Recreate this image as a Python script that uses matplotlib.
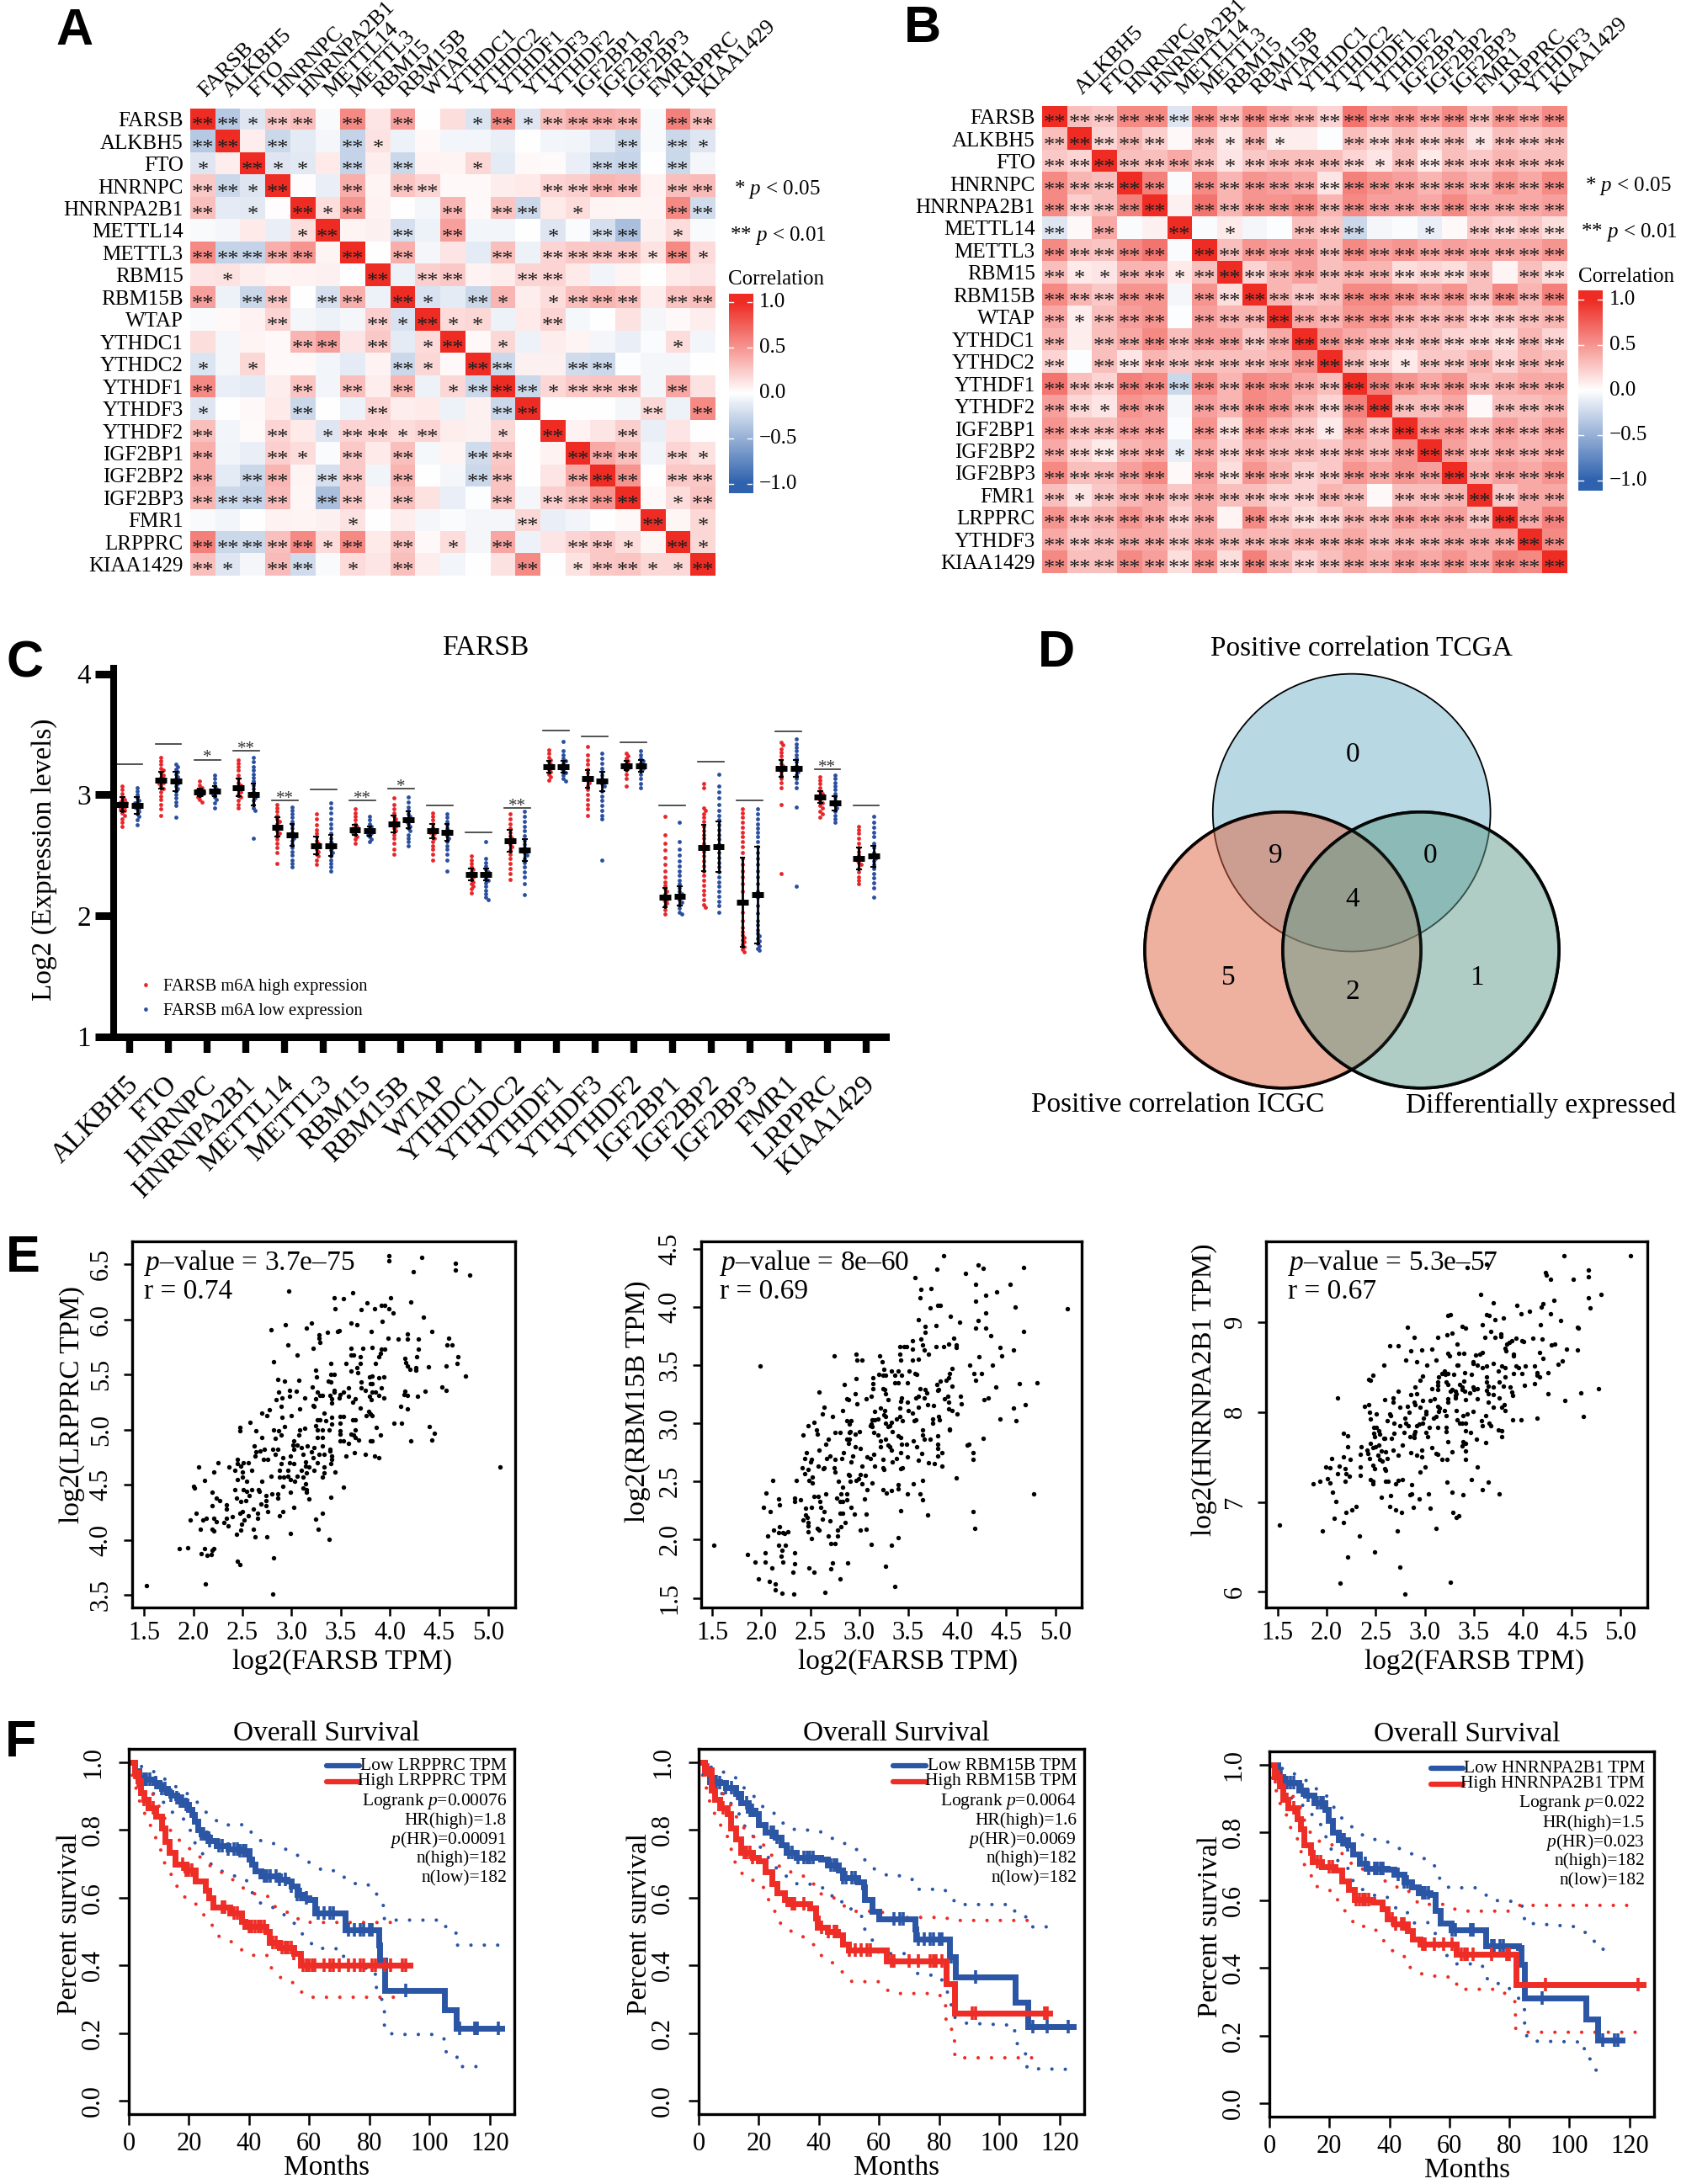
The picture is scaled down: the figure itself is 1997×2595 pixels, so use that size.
import matplotlib
matplotlib.use('Agg')
import matplotlib.pyplot as plt
import numpy as np
from matplotlib.colors import LinearSegmentedColormap
from matplotlib.lines import Line2D
from matplotlib.patches import Circle
from matplotlib.transforms import ScaledTranslation

W, H = 1997, 2595
plt.rcParams['font.family'] = ['Liberation Serif', 'DejaVu Serif']
plt.rcParams['mathtext.fontset'] = 'custom'
plt.rcParams['mathtext.rm'] = 'Liberation Serif'
plt.rcParams['mathtext.it'] = 'Liberation Serif:italic'
plt.rcParams['mathtext.bf'] = 'Liberation Serif:bold'

RED = '#ee2d26'
BLUE = '#2b55a5'

# panel A / B
genes_a = ['FARSB', 'ALKBH5', 'FTO', 'HNRNPC', 'HNRNPA2B1', 'METTL14', 'METTL3', 'RBM15', 'RBM15B', 'WTAP', 'YTHDC1',
           'YTHDC2', 'YTHDF1', 'YTHDF3', 'YTHDF2', 'IGF2BP1', 'IGF2BP2', 'IGF2BP3', 'FMR1', 'LRPPRC', 'KIAA1429']
genes_b = ['FARSB', 'ALKBH5', 'FTO', 'HNRNPC', 'HNRNPA2B1', 'METTL14', 'METTL3', 'RBM15', 'RBM15B', 'WTAP', 'YTHDC1',
           'YTHDC2', 'YTHDF1', 'YTHDF2', 'IGF2BP1', 'IGF2BP2', 'IGF2BP3', 'FMR1', 'LRPPRC', 'YTHDF3', 'KIAA1429']
top_labels_b = [''] + genes_b[1:]

corr_a = [
    [1, -.35, -.15, .25, .3, -.03, .55, .12, .45, 0, .15, -.17, .55, -.15, .3, .38, .38, .35, -.03, .6, .3],
    [-.35, 1, .08, -.25, -.12, -.05, -.28, .14, -.08, .03, -.06, -.06, -.1, 0, -.06, -.07, -.12, -.25, -.03, -.25, -.15],
    [-.15, .08, 1, -.15, -.14, .1, -.28, .08, -.25, .06, .05, .18, -.12, .03, .02, -.1, -.25, -.27, 0, -.25, -.05],
    [.25, -.25, -.15, 1, .01, -.1, .38, .05, .28, .2, .03, .03, .08, .1, .2, .22, .35, .32, .06, .3, .32],
    [.3, -.12, -.14, .01, 1, .15, .5, .06, 0, -.05, .35, .03, .28, -.25, .1, .16, .05, .04, .05, .55, -.22],
    [-.03, -.05, .1, -.1, .15, 1, .05, .07, -.2, -.08, .45, -.06, -.06, 0, -.15, -.02, -.2, -.4, .07, .16, -.03],
    [.55, -.28, -.28, .38, .5, .05, 1, 0, .38, -.05, .12, -.12, .3, -.08, .2, .25, .25, .25, .14, .55, .17],
    [.12, .14, .08, .05, .06, .07, 0, 1, -.08, .22, .25, .06, .08, .2, .2, .1, -.07, .05, 0, .1, .12],
    [.45, -.08, -.25, .28, 0, -.2, .38, -.08, 1, -.18, -.12, -.25, .35, .08, .16, .3, .35, .3, .08, .28, .3],
    [-.03, .03, .06, .2, -.05, -.08, -.05, .22, -.18, 1, .17, .18, -.08, .1, .2, -.04, 0, .14, -.05, .03, .08],
    [.15, -.05, .05, .03, .35, .45, .12, .25, -.12, .17, 1, .03, .18, -.08, .08, .05, -.05, -.1, -.02, .16, -.06],
    [-.17, -.05, .18, .03, .03, -.06, -.12, .06, -.25, .18, .03, 1, -.25, .07, .07, -.22, -.25, -.01, -.05, -.05, 0],
    [.55, -.1, -.12, .08, .28, -.06, .3, .08, .35, -.08, .18, -.25, 1, -.25, .18, .25, .28, .28, -.05, .42, .14],
    [-.15, 0, .03, .1, -.25, 0, -.08, .2, .08, .1, -.08, .07, -.25, 1, 0, 0, 0, -.05, .18, -.08, .55],
    [.3, -.06, .02, .2, .1, -.15, .2, .2, .16, .2, .08, .07, .18, 0, 1, .06, .12, .22, -.1, .12, 0],
    [.38, -.07, -.1, .22, .16, -.02, .25, .1, .3, -.04, .05, -.22, .25, 0, .06, 1, .4, .3, -.07, .2, .14],
    [.38, -.12, -.25, .35, .05, -.2, .25, -.07, .35, 0, -.05, -.25, .28, 0, .12, .4, 1, .5, 0, .25, .25],
    [.35, -.25, -.27, .32, .04, -.4, .25, .05, .3, .14, -.1, -.01, .28, -.05, .22, .3, .5, 1, .03, .16, .28],
    [-.03, -.06, 0, .06, .05, .07, .14, 0, .08, -.05, -.02, -.05, -.05, .18, -.1, -.07, 0, .03, 1, .04, .18],
    [.6, -.25, -.25, .3, .55, .16, .55, .1, .28, .03, .16, -.05, .42, -.08, .12, .2, .25, .16, .04, 1, .18],
    [.3, -.15, -.05, .32, -.22, -.03, .17, .12, .3, .08, -.06, 0, .14, .55, 0, .14, .25, .28, .18, .18, 1],
]
stars_a = ['221220202001212222022', '220200210000000002021', '102110202001000022020', '221200202200002222022',
           '201021200020220100022', '000012002020001022010', '222220202000202222121', '010000020220022000000',
           '202202202102101222022', '000200021211002000000', '000022020120100000010', '101000002102200220000',
           '200020202012221222020', '100020020000220000202', '200201221200102002000', '200210202002200222021',
           '202202202002200222022', '222202202000202222012', '000000100000020000201', '222221202010200221021',
           '210220102000020122112']

corr_b = [
    [1, .3, .25, .55, .55, -.15, .55, .3, .55, .4, .35, .2, .65, .45, .5, .4, .55, .3, .5, .4, .55],
    [.3, 1, .2, .35, .22, .03, .3, .1, .35, .08, .08, -.01, .3, .18, .3, .2, .3, .12, .3, .25, .3],
    [.25, .2, 1, .3, .3, .4, .28, .12, .25, .3, .3, .3, .2, .12, .3, .1, .3, .25, .35, .3, .3],
    [.55, .35, .3, 1, .6, -.02, .55, .35, .5, .45, .4, .12, .6, .5, .45, .35, .45, .35, .5, .4, .55],
    [.55, .22, .3, .6, 1, .07, .65, .35, .5, .5, .55, .35, .55, .45, .45, .4, .55, .4, .4, .4, .45],
    [-.15, .03, .4, -.02, .07, 1, -.02, .1, -.05, -.01, .3, .25, -.25, -.05, -.02, -.1, .03, .25, .2, .25, .15],
    [.55, .3, .28, .55, .65, -.02, 1, .3, .5, .45, .45, .3, .55, .45, .5, .4, .45, .4, .4, .4, .5],
    [.3, .1, .12, .35, .35, .1, .3, 1, .2, .35, .45, .3, .35, .35, .15, .2, .15, .3, .05, .3, .15],
    [.55, .35, .25, .5, .5, -.05, .5, .15, 1, .35, .25, .3, .55, .55, .5, .4, .5, .3, .55, .35, .6],
    [.4, .08, .3, .45, .5, -.01, .45, .35, .35, 1, .4, .35, .5, .5, .35, .3, .35, .2, .25, .3, .35],
    [.35, .08, .3, .4, .55, .3, .45, .45, .25, .4, 1, .5, .4, .35, .25, .3, .2, .2, .15, .35, .2],
    [.2, -.01, .3, .12, .35, .25, .3, .3, .3, .35, .5, 1, .3, .2, .1, .25, .25, .35, .2, .35, .3],
    [.65, .3, .2, .6, .55, -.25, .55, .35, .55, .5, .4, .3, 1, .6, .5, .4, .5, .3, .35, .4, .4],
    [.45, .18, .12, .5, .45, -.05, .45, .35, .55, .5, .35, .2, .6, 1, .3, .3, .4, .03, .3, .3, .35],
    [.5, .3, .3, .45, .45, -.02, .5, .15, .5, .35, .25, .1, .5, .3, 1, .5, .5, .3, .45, .35, .45],
    [.4, .2, .1, .35, .4, -.1, .4, .2, .4, .3, .3, .25, .4, .3, .5, 1, .45, .3, .4, .35, .4],
    [.55, .3, .3, .45, .55, .03, .45, .15, .5, .35, .2, .25, .5, .4, .5, .45, 1, .35, .45, .4, .5],
    [.3, .12, .25, .35, .4, .25, .4, .3, .3, .2, .2, .35, .3, .03, .3, .3, .35, 1, .25, .4, .4],
    [.5, .3, .35, .5, .4, .2, .4, .05, .55, .25, .15, .2, .35, .3, .45, .4, .45, .25, 1, .4, .6],
    [.4, .25, .3, .4, .4, .25, .4, .3, .35, .3, .35, .35, .4, .3, .35, .35, .4, .4, .4, 1, .55],
    [.55, .3, .3, .55, .45, .15, .5, .15, .6, .35, .2, .3, .4, .35, .45, .4, .5, .4, .6, .55, 1],
]
stars_b = ['222222222222222222222', '222220212100222221222', '222222212222212222222', '222220222222222222222',
           '222220222222222222222', '202002010022200102222',
           '222220222222222222222', '211221222222222222022', '222220222222222222222', '212220222222222222222',
           '202222222222222222222', '202222222222221222222', '222222222222222222222', '221220222222222220222',
           '222220222221222222222', '222221222222222222222', '222220222222222222222', '212222222222202222222',
           '222222202222222222222', '222222222222222222222', '222222222222222222222']

# panel C
c_genes = ['ALKBH5', 'FTO', 'HNRNPC', 'HNRNPA2B1', 'METTL14', 'METTL3', 'RBM15', 'RBM15B', 'WTAP', 'YTHDC1', 'YTHDC2',
           'YTHDF1', 'YTHDF3', 'YTHDF2', 'IGF2BP1', 'IGF2BP2', 'IGF2BP3', 'FMR1', 'LRPPRC', 'KIAA1429']
c_high = [
    [3.07, 3.04, 3.01, 2.98, 2.96, 2.95, 2.94, 2.93, 2.93, 2.92, 2.91, 2.9, 2.89, 2.88, 2.87, 2.85, 2.83, 2.8, 2.77, 2.74],
    [3.31, 3.28, 3.25, 3.22, 3.2, 3.18, 3.16, 3.14, 3.13, 3.12, 3.11, 3.1, 3.09, 3.07, 3.05, 3.02, 2.99, 2.96, 2.92, 2.88, 2.83],
    [3.11, 3.08, 3.06, 3.05, 3.04, 3.03, 3.02, 3.02, 3.01, 3.0, 2.99, 2.98, 2.96, 2.94],
    [3.29, 3.26, 3.23, 3.2, 3.16, 3.13, 3.1, 3.08, 3.07, 3.06, 3.05, 3.04, 3.02, 3.0, 2.98, 2.95, 2.92, 2.89],
    [2.92, 2.89, 2.86, 2.83, 2.8, 2.78, 2.76, 2.74, 2.73, 2.72, 2.7, 2.68, 2.66, 2.63, 2.6, 2.56, 2.52, 2.43],
    [2.84, 2.8, 2.75, 2.71, 2.68, 2.65, 2.62, 2.6, 2.59, 2.58, 2.57, 2.55, 2.53, 2.51, 2.49, 2.46, 2.42],
    [2.88, 2.85, 2.82, 2.79, 2.76, 2.74, 2.73, 2.72, 2.71, 2.7, 2.69, 2.67, 2.65, 2.63, 2.6],
    [2.97, 2.92, 2.88, 2.85, 2.82, 2.8, 2.78, 2.77, 2.76, 2.75, 2.74, 2.72, 2.7, 2.67, 2.64, 2.6, 2.55, 2.51],
    [2.85, 2.82, 2.79, 2.76, 2.73, 2.71, 2.7, 2.69, 2.68, 2.66, 2.64, 2.61, 2.58, 2.55, 2.51, 2.46],
    [2.49, 2.46, 2.43, 2.4, 2.38, 2.36, 2.35, 2.34, 2.33, 2.32, 2.3, 2.28, 2.26, 2.24, 2.22, 2.19],
    [2.84, 2.8, 2.76, 2.72, 2.69, 2.66, 2.64, 2.62, 2.61, 2.59, 2.57, 2.54, 2.51, 2.47, 2.43, 2.39, 2.35, 2.3],
    [3.37, 3.34, 3.31, 3.29, 3.27, 3.25, 3.24, 3.23, 3.22, 3.21, 3.19, 3.17, 3.15, 3.12],
    [3.4, 3.33, 3.29, 3.25, 3.21, 3.18, 3.15, 3.13, 3.12, 3.1, 3.07, 3.04, 3.0, 2.96, 2.92, 2.88, 2.83],
    [3.34, 3.32, 3.3, 3.28, 3.26, 3.25, 3.24, 3.23, 3.22, 3.2, 3.17, 3.13, 3.07],
    [2.82, 2.67, 2.6, 2.54, 2.48, 2.42, 2.37, 2.32, 2.28, 2.25, 2.22, 2.2, 2.18, 2.16, 2.15, 2.14, 2.13, 2.12, 2.1, 2.08, 2.05, 2.01],
    [3.09, 3.06, 2.89, 2.87, 2.84, 2.81, 2.78, 2.74, 2.7, 2.67, 2.64, 2.6, 2.57, 2.53, 2.49, 2.45, 2.41, 2.37, 2.33, 2.29, 2.25, 2.21, 2.17, 2.13, 2.09, 2.07],
    [2.88, 2.85, 2.81, 2.77, 2.73, 2.69, 2.65, 2.61, 2.57, 2.52, 2.47, 2.42, 2.37, 2.32, 2.26, 2.2, 2.11, 2.03, 1.96, 1.9, 1.87, 1.84, 1.82, 1.8, 1.78, 1.76, 1.74, 1.72, 1.7],
    [3.43, 3.41, 3.38, 3.35, 3.32, 3.29, 3.26, 3.24, 3.22, 3.21, 3.19, 3.16, 3.13, 3.1, 3.06, 2.92, 2.35],
    [3.15, 3.12, 3.09, 3.06, 3.03, 3.01, 2.99, 2.98, 2.97, 2.95, 2.93, 2.91, 2.89, 2.86, 2.84, 2.81],
    [2.74, 2.71, 2.68, 2.64, 2.6, 2.56, 2.53, 2.5, 2.48, 2.47, 2.46, 2.44, 2.42, 2.39, 2.36, 2.32, 2.29, 2.26],
]
c_low = [
    [3.06, 3.03, 3.0, 2.97, 2.95, 2.94, 2.93, 2.92, 2.91, 2.9, 2.89, 2.88, 2.86, 2.84, 2.82, 2.79, 2.75],
    [3.25, 3.23, 3.21, 3.19, 3.17, 3.15, 3.13, 3.12, 3.11, 3.1, 3.09, 3.07, 3.05, 3.03, 3.0, 2.97, 2.94, 2.91, 2.81],
    [3.16, 3.13, 3.1, 3.07, 3.05, 3.04, 3.03, 3.02, 3.01, 3.0, 2.98, 2.96, 2.93, 2.89],
    [3.31, 3.27, 3.23, 3.2, 3.17, 3.14, 3.11, 3.08, 3.05, 3.02, 3.0, 2.99, 2.97, 2.95, 2.92, 2.89, 2.87, 2.64],
    [2.9, 2.87, 2.84, 2.81, 2.78, 2.75, 2.72, 2.69, 2.67, 2.66, 2.64, 2.62, 2.59, 2.56, 2.53, 2.5, 2.46, 2.43, 2.4],
    [2.93, 2.89, 2.85, 2.8, 2.76, 2.72, 2.68, 2.64, 2.61, 2.59, 2.58, 2.56, 2.54, 2.52, 2.49, 2.46, 2.43, 2.4, 2.37],
    [2.82, 2.79, 2.76, 2.74, 2.72, 2.71, 2.7, 2.69, 2.68, 2.67, 2.65, 2.63, 2.61],
    [2.98, 2.94, 2.9, 2.87, 2.84, 2.82, 2.8, 2.79, 2.78, 2.76, 2.74, 2.72, 2.7, 2.67, 2.64, 2.61, 2.58],
    [2.84, 2.81, 2.78, 2.75, 2.72, 2.7, 2.69, 2.68, 2.66, 2.64, 2.61, 2.58, 2.55, 2.51, 2.46, 2.37],
    [2.61, 2.47, 2.44, 2.41, 2.38, 2.36, 2.35, 2.34, 2.33, 2.31, 2.29, 2.27, 2.24, 2.21, 2.18, 2.15, 2.13],
    [2.86, 2.82, 2.78, 2.74, 2.7, 2.66, 2.62, 2.59, 2.56, 2.54, 2.52, 2.5, 2.47, 2.44, 2.4, 2.36, 2.32, 2.26, 2.17],
    [3.44, 3.36, 3.33, 3.3, 3.28, 3.26, 3.24, 3.23, 3.22, 3.2, 3.18, 3.16, 3.13, 3.11],
    [3.34, 3.3, 3.26, 3.22, 3.19, 3.16, 3.13, 3.11, 3.09, 3.07, 3.03, 2.99, 2.95, 2.91, 2.87, 2.83, 2.8, 2.46],
    [3.36, 3.33, 3.3, 3.28, 3.26, 3.25, 3.24, 3.23, 3.22, 3.2, 3.17, 3.13, 3.09, 3.06],
    [2.77, 2.61, 2.55, 2.5, 2.45, 2.41, 2.37, 2.33, 2.29, 2.26, 2.23, 2.2, 2.18, 2.17, 2.16, 2.15, 2.13, 2.11, 2.09, 2.06, 2.03, 2.01],
    [3.17, 3.07, 3.02, 2.97, 2.92, 2.87, 2.83, 2.79, 2.75, 2.71, 2.67, 2.63, 2.59, 2.56, 2.52, 2.48, 2.44, 2.4, 2.36, 2.32, 2.28, 2.24, 2.2, 2.16, 2.12, 2.08, 2.03],
    [2.88, 2.84, 2.8, 2.76, 2.72, 2.69, 2.65, 2.61, 2.57, 2.52, 2.47, 2.42, 2.37, 2.32, 2.26, 2.2, 2.15, 2.08, 2.02, 1.96, 1.92, 1.88, 1.85, 1.83, 1.81, 1.79, 1.77, 1.75, 1.73, 1.71],
    [3.46, 3.42, 3.39, 3.36, 3.33, 3.3, 3.27, 3.24, 3.22, 3.21, 3.19, 3.16, 3.13, 3.1, 3.06, 2.9, 2.24],
    [3.16, 3.13, 3.1, 3.07, 3.04, 3.01, 2.98, 2.95, 2.94, 2.93, 2.91, 2.89, 2.86, 2.83, 2.8, 2.77],
    [2.82, 2.77, 2.73, 2.69, 2.65, 2.6, 2.56, 2.52, 2.5, 2.49, 2.47, 2.45, 2.42, 2.39, 2.35, 2.31, 2.27, 2.23, 2.15],
]
c_med_high = [2.92, 3.12, 3.02, 3.06, 2.73, 2.58, 2.71, 2.76, 2.70, 2.34, 2.62, 3.23, 3.13, 3.24, 2.15, 2.56, 2.11, 3.22, 2.98, 2.47]
c_med_low = [2.91, 3.11, 3.03, 3.00, 2.67, 2.58, 2.70, 2.79, 2.69, 2.34, 2.54, 3.23, 3.11, 3.24, 2.16, 2.57, 2.17, 3.22, 2.93, 2.49]
c_err_high = [.06, .07, .03, .07, .08, .07, .04, .07, .06, .05, .09, .05, .07, .04, .08, .19, .37, .07, .05, .09]
c_err_low = [.07, .08, .04, .09, .09, .09, .04, .07, .07, .05, .09, .05, .08, .05, .08, .21, .40, .07, .06, .09]
c_sig_y = [3.25, 3.42, 3.29, 3.36, 2.955, 3.04, 2.95, 3.05, 2.91, 2.69, 2.89, 3.53, 3.48, 3.43, 2.91, 3.27, 2.95, 3.52, 3.21, 2.91]
c_sig = ['', '', '*', '**', '**', '', '**', '*', '', '', '**', '', '', '', '', '', '', '', '**', '']

# panel D
venn_counts = ['0', '9', '0', '4', '5', '2', '1']

# panel E, flat x,y pairs
lrpprc_flat = [1.52,3.59, 1.86,3.92, 1.94,3.93, 1.97,4.18, 2.03,4.24, 2.07,4.10, 2.10,4.18, 2.13,4.20, 2.00,4.49, 2.01,4.47, 2.05,4.66, 2.11,4.54,
    2.08,3.88, 2.11,3.92, 2.14,3.86, 2.18,3.87, 2.19,3.91, 2.21,3.92, 2.12,3.60, 2.81,3.51, 2.19,4.31, 2.19,4.43, 2.23,4.38, 2.27,4.36, 2.21,4.62, 2.25,4.70,
    2.21,4.20, 2.23,4.17, 2.19,4.10, 2.21,4.08, 2.31,4.16, 2.35,4.13, 2.34,4.20, 2.40,4.21, 2.34,4.32, 2.34,4.28, 2.36,4.66, 2.42,4.46, 2.44,4.38, 2.48,4.35,
    2.42,4.63, 2.45,4.73, 2.45,4.69, 2.48,4.67, 2.50,4.62, 2.51,4.70, 2.56,4.70, 2.59,4.63, 2.45,4.55, 2.50,4.57, 2.54,4.53, 2.51,4.46, 2.54,4.44, 2.59,4.46, 2.57,4.40, 2.53,4.36,
    2.47,4.24, 2.50,4.26, 2.56,4.22, 2.61,4.28, 2.52,4.18, 2.49,4.14, 2.44,4.05, 2.48,4.09, 2.61,4.10, 2.63,4.03, 2.75,4.03, 2.65,4.24, 2.65,4.20, 2.45,3.81, 2.47,3.78, 2.82,3.84,
    2.47,5.02, 2.47,4.99, 2.58,5.07, 2.64,4.99, 2.70,4.93, 2.70,5.15, 2.75,5.13, 2.77,5.18, 2.62,4.85, 2.64,4.80, 2.68,4.81, 2.72,4.82, 2.63,4.76, 2.71,4.73, 2.76,4.73, 2.81,4.82, 2.86,4.82, 2.83,4.78,
    2.82,5.00, 2.83,4.92, 2.87,4.99, 2.89,4.95, 2.93,5.03, 2.90,5.11, 2.89,5.21, 2.84,5.27, 2.90,5.29, 2.87,5.34, 2.86,5.46, 2.93,5.44, 2.98,5.36, 2.98,5.30, 3.05,5.35, 3.07,5.45,
    3.00,5.13, 3.08,5.19, 3.13,5.29, 2.82,5.62, 3.06,5.68, 2.79,5.91, 2.94,5.95, 2.96,5.77, 2.97,6.26, 3.15,5.92, 3.20,5.97, 3.28,5.86, 3.28,5.83, 3.29,5.79, 3.22,5.74, 3.36,5.88,
    3.43,6.20, 3.44,6.10, 3.53,6.19, 3.62,6.24, 3.47,5.89, 3.48,5.90, 3.60,5.97, 3.66,5.95, 3.71,6.09, 3.77,6.15, 3.84,6.10, 3.91,6.13, 3.95,6.13, 3.99,6.10, 4.03,6.06, 4.01,6.20, 3.92,5.98, 3.81,5.89,
    3.99,6.58, 3.99,6.53, 4.24,6.43, 4.32,6.56, 4.67,6.51, 4.67,6.45, 4.81,6.40, 4.21,6.16, 4.34,6.02, 3.98,5.83, 4.08,5.82, 4.18,5.87, 4.18,5.82, 4.29,5.82, 4.43,5.89, 4.60,5.83, 4.58,5.77, 4.63,5.77,
    4.29,5.73, 4.27,5.66, 4.15,5.65, 4.16,5.61, 4.18,5.58, 4.20,5.55, 4.26,5.56, 4.26,5.54, 4.39,5.57, 4.57,5.58, 4.69,5.66, 4.68,5.60, 4.77,5.49, 4.53,5.39, 4.57,5.36, 4.36,5.35, 4.28,5.30, 4.15,5.35, 4.14,5.32, 4.18,5.31,
    4.11,5.21, 4.18,5.19, 4.04,5.06, 4.12,5.06, 4.21,4.90, 4.40,5.03, 4.45,4.97, 4.43,4.91, 5.12,4.66, 3.24,5.54, 3.25,5.48, 3.21,5.39, 3.26,5.34, 3.29,5.31, 3.31,5.31, 3.24,5.28, 3.22,5.22, 3.23,5.21,
    3.37,5.44, 3.40,5.43, 3.40,5.60, 3.40,5.50, 3.43,5.50, 3.43,5.36, 3.39,5.31, 3.43,5.34, 3.41,5.28, 3.41,5.24, 3.48,5.29, 3.49,5.32, 3.53,5.34, 3.55,5.60, 3.58,5.38, 3.58,5.30, 3.60,5.53, 3.62,5.25, 3.65,5.28,
    3.60,5.74, 3.60,5.68, 3.63,5.68, 3.66,5.56, 3.67,5.52, 3.70,5.66, 3.70,5.60, 3.72,5.74, 3.71,5.43, 3.71,5.38, 3.75,5.36, 3.79,5.48, 3.82,5.49, 3.80,5.42, 3.82,5.42, 3.82,5.75, 3.82,5.34, 3.79,5.30, 3.81,5.27,
    3.85,5.60, 3.89,5.47, 3.94,5.48, 3.91,5.38, 3.85,5.34, 3.89,5.31, 3.94,5.29, 3.89,5.66, 3.90,5.69, 3.91,5.73, 3.95,5.73, 3.70,5.20, 3.78,5.17, 3.80,5.14, 3.82,5.13, 3.76,5.13,
    3.26,5.09, 3.29,5.09, 3.33,5.15, 3.24,5.04, 3.35,5.08, 3.41,5.11, 3.41,5.05, 3.49,5.12, 3.53,5.12, 3.49,5.06, 3.26,5.00, 3.31,5.00, 3.26,4.93, 3.31,4.93, 3.38,5.00, 3.49,4.99, 3.49,4.96, 3.49,4.90, 3.53,4.90, 3.58,4.88,
    3.62,5.09, 3.65,5.09, 3.65,5.00, 3.60,4.96, 3.63,4.95, 3.65,4.93, 3.68,4.91, 3.80,4.90, 3.82,4.90, 3.86,5.02, 3.90,4.95, 3.64,4.79, 3.55,4.76, 3.75,4.78, 3.84,4.76, 3.89,4.75,
    3.02,4.90, 3.07,4.95, 3.08,5.00, 3.13,5.01, 3.01,4.86, 3.02,4.82, 3.06,4.86, 3.10,4.84, 3.16,4.85, 3.20,4.80, 3.23,4.84, 3.28,4.78, 3.31,4.85, 3.39,4.82, 3.39,4.81, 3.41,4.76, 3.41,4.73, 3.33,4.78, 3.12,4.78, 3.22,4.75, 3.26,4.70, 3.14,4.71,
    2.99,4.76, 2.91,4.75, 2.89,4.69, 2.98,4.70, 3.02,4.69, 3.14,4.67, 3.18,4.66, 3.33,4.66, 3.40,4.69, 2.88,4.63, 2.96,4.63, 3.10,4.63, 3.15,4.61, 3.23,4.63, 3.33,4.61, 3.44,4.62,
    2.79,4.58, 2.88,4.57, 2.92,4.57, 2.96,4.58, 2.99,4.55, 3.03,4.53, 3.06,4.58, 3.12,4.57, 3.31,4.57, 2.70,4.53, 2.91,4.49, 3.14,4.51, 3.12,4.47, 3.15,4.46, 3.53,4.48,
    2.66,4.46, 2.67,4.44, 2.74,4.40, 2.80,4.42, 2.86,4.42, 2.99,4.43, 3.15,4.43, 3.18,4.37, 3.40,4.39, 2.74,4.36, 2.69,4.33, 2.86,4.38, 2.74,4.31, 2.76,4.26, 3.02,4.30, 2.91,4.26, 2.88,4.22, 3.24,4.19, 3.31,4.24, 3.27,4.10, 3.38,4.01, 2.99,4.06]
rbm15b_flat = [1.52,1.95, 1.99,3.49, 1.86,1.87, 1.94,1.81, 1.97,1.66, 2.04,1.89, 2.04,1.81, 2.08,1.64, 2.11,1.76, 2.14,1.62, 2.14,1.57, 2.21,1.54, 2.32,1.72, 2.34,1.79, 2.33,1.53, 2.34,1.89,
    2.05,2.40, 2.02,2.28, 2.09,2.24, 2.12,2.51, 2.18,2.35, 2.19,2.30, 2.07,2.03, 2.13,2.08, 2.18,2.06, 2.19,2.11, 2.22,2.06, 2.24,2.05, 2.27,2.07, 2.18,1.95, 2.21,1.91, 2.25,1.95, 2.20,1.86, 2.22,1.81,
    2.34,2.36, 2.34,2.33, 2.40,2.34, 2.36,2.51, 2.43,2.17, 2.45,2.27, 2.45,2.21, 2.47,2.19, 2.48,2.15, 2.48,2.12, 2.48,2.07, 2.51,2.28, 2.51,2.01,
    2.42,2.62, 2.44,2.57, 2.48,2.60, 2.49,2.51, 2.52,2.54, 2.52,2.49, 2.54,2.37, 2.58,2.37, 2.60,2.33, 2.61,2.28, 2.64,2.24, 2.62,2.18, 2.57,2.10, 2.59,2.08, 2.49,1.76, 2.54,1.72,
    2.43,2.90, 2.44,2.70, 2.46,2.75, 2.50,2.67, 2.51,2.69, 2.48,2.98, 2.54,3.01, 2.56,2.94, 2.57,2.91, 2.59,2.77, 2.58,2.63, 2.63,2.61, 2.64,2.62, 2.59,3.27, 2.64,3.14, 2.62,3.08, 2.73,3.06, 2.74,3.58, 2.85,3.33,
    2.66,2.82, 2.68,2.86, 2.67,2.70, 2.70,2.72, 2.75,2.92, 2.80,2.92, 2.75,2.69, 2.74,2.62, 2.75,2.58, 2.83,3.11, 2.66,2.39, 2.70,2.16, 2.77,2.36, 2.79,2.50, 2.80,2.33, 2.81,2.39, 2.83,2.45, 2.83,2.33, 2.87,2.39, 2.87,2.34,
    2.80,2.23, 2.83,2.23, 2.86,2.15, 2.81,2.11, 2.78,2.08, 2.68,2.03, 2.78,2.03, 2.71,1.97, 2.75,1.97, 2.73,1.80, 2.71,1.75, 2.80,1.66, 2.88,1.80, 2.65,1.55,
    2.84,2.75, 2.82,2.70, 2.87,2.86, 2.90,2.86, 2.89,2.83, 2.90,2.92, 2.91,2.93, 2.92,3.02, 2.90,2.99, 2.87,3.02, 2.96,2.91, 3.00,2.93, 2.96,2.80, 3.01,2.78,
    2.87,3.21, 2.89,3.20, 2.96,3.25, 2.98,3.17, 2.97,3.38, 2.97,3.59, 2.98,3.54, 3.03,3.54, 3.07,3.21, 3.12,3.23, 2.93,2.72, 2.92,2.67, 3.03,2.63, 2.89,2.56, 2.90,2.55, 2.91,2.50, 2.97,2.51, 2.99,2.52, 3.01,2.56, 3.06,2.55, 3.03,2.48, 3.08,2.43, 3.13,2.49,
    3.05,2.35, 2.92,2.28, 2.95,2.22, 3.07,2.22, 3.01,2.08, 3.07,2.09, 3.12,1.96, 3.27,1.77, 3.33,1.95, 3.40,2.02, 3.36,1.60,
    3.08,2.71, 3.11,2.70, 3.15,2.73, 3.16,2.63, 3.24,2.69, 3.24,2.62, 3.25,2.60, 3.34,2.67, 3.38,2.70, 3.42,2.61, 3.44,2.62, 3.24,2.43, 3.28,2.40, 3.33,2.42, 3.40,2.44, 3.40,2.47, 3.49,2.39, 3.42,2.25, 3.55,2.48, 3.62,2.39, 3.65,2.34, 3.65,2.51, 3.70,2.21,
    3.12,2.99, 3.13,2.97, 3.11,2.98, 3.15,2.92, 3.19,2.90, 3.22,2.80, 3.22,2.85, 3.27,2.86, 3.29,2.81, 3.31,2.80, 3.33,2.77, 3.13,3.03, 3.16,3.03, 3.19,3.04, 3.22,3.13, 3.25,3.07, 3.27,3.06, 3.16,3.10, 3.26,3.11, 3.27,3.00, 3.33,3.01, 3.29,2.97, 3.34,2.93, 3.31,2.98,
    3.38,3.04, 3.41,3.06, 3.44,3.02, 3.41,3.13, 3.42,3.19, 3.43,3.22, 3.49,3.18, 3.50,3.11, 3.40,2.89, 3.42,2.88, 3.43,2.82, 3.48,2.82, 3.42,2.75, 3.49,2.71,
    3.54,3.09, 3.56,3.02, 3.58,3.03, 3.60,3.14, 3.55,2.85, 3.59,2.80, 3.64,2.74, 3.60,2.68, 3.65,2.94, 3.65,2.90, 3.66,2.86, 3.72,2.86, 3.71,2.66, 3.77,2.65, 3.84,2.63,
    3.75,3.00, 3.75,3.04, 3.81,3.06, 3.82,3.03, 3.80,2.89, 3.80,2.82, 3.80,2.78, 3.84,2.75, 3.80,2.72, 3.70,3.16, 3.76,3.15, 3.87,3.21, 3.91,3.18, 3.91,3.12, 3.95,3.11, 4.00,3.08, 3.92,2.95, 3.92,2.94,
    3.14,3.39, 3.14,3.34, 3.14,3.30, 3.20,3.42, 3.24,3.41, 3.27,3.41, 3.25,3.46, 3.23,3.53, 3.21,3.58, 3.24,3.30, 3.26,3.29, 3.27,3.25, 3.29,3.20, 3.33,3.45, 3.36,3.41, 3.36,3.35, 3.40,3.35, 3.40,3.45, 3.43,3.41, 3.49,3.35, 3.42,3.54, 3.41,3.59, 3.41,3.66, 3.46,3.66, 3.48,3.66,
    3.54,3.64, 3.54,3.71, 3.54,3.54, 3.60,3.55, 3.51,3.45, 3.57,3.43, 3.59,3.42, 3.62,3.30, 3.60,3.23, 3.58,3.22, 3.66,3.22, 3.67,3.29, 3.69,3.26, 3.63,3.72, 3.65,3.67, 3.66,3.63, 3.71,3.59,
    3.79,3.33, 3.81,3.29, 3.83,3.36, 3.80,3.28, 3.89,3.37, 3.92,3.43, 3.91,3.39, 3.95,3.32, 3.95,3.47, 3.90,3.23, 4.03,3.23, 4.04,3.17, 3.78,3.66, 3.86,3.66, 3.91,3.68, 3.96,3.73, 3.99,3.67, 3.99,3.65,
    3.57,4.25, 3.63,4.15, 3.73,4.16, 3.62,4.08, 3.79,4.32, 3.86,4.44, 3.72,3.99, 3.80,4.01, 3.83,4.01, 3.60,3.89, 3.78,3.84, 3.67,3.83, 3.67,3.78, 3.93,3.92, 4.02,3.87,
    4.08,4.29, 4.21,4.36, 4.26,4.33, 4.19,4.19, 4.29,4.10, 4.19,4.05, 4.40,4.13, 4.54,4.19, 4.59,4.00, 4.68,4.34, 5.12,3.98, 4.29,3.95, 4.21,3.88, 4.19,3.82, 4.29,3.82, 4.68,3.79, 4.34,3.75, 4.44,3.65, 4.57,3.63, 4.22,3.57, 4.45,3.58, 4.13,3.50, 4.36,3.50,
    4.17,3.43, 4.25,3.43, 4.19,3.37, 4.39,3.31, 4.63,3.34, 4.81,3.35, 4.27,3.20, 4.32,3.22, 4.57,3.13, 4.69,3.16, 4.44,3.04, 4.60,3.02, 4.10,2.81, 4.12,2.82, 4.16,2.75, 4.16,2.69, 4.26,2.87, 3.99,2.53, 4.16,2.24, 4.18,2.10, 4.78,2.39]
hnrnpa2b1_flat = [1.52,6.74, 1.96,6.68, 2.08,6.82, 2.17,6.77, 2.20,6.88, 2.26,6.91, 2.30,6.95, 2.33,6.62, 2.21,6.39, 2.49,6.44, 2.14,6.10, 2.75,6.28, 2.80,5.98, 3.26,6.11, 2.72,6.68, 3.12,6.71,
    1.86,7.20, 1.93,7.23, 2.01,7.26, 2.03,7.21, 2.06,7.11, 2.09,7.01, 2.11,7.31, 2.19,7.23, 2.20,7.31, 2.23,7.29, 2.19,7.37, 2.13,7.40, 1.99,7.39, 2.03,7.38, 2.05,7.48, 2.17,7.50, 2.24,7.47, 2.21,7.61, 2.17,7.76, 2.21,7.74, 2.11,8.16,
    2.34,7.53, 2.35,7.61, 2.34,7.39, 2.34,7.30, 2.41,7.58, 2.42,7.54, 2.44,7.48, 2.45,7.65, 2.47,7.60, 2.50,7.61, 2.53,7.63, 2.47,7.41, 2.49,7.37, 2.52,7.52, 2.54,7.47, 2.57,7.45, 2.62,7.48, 2.56,7.57, 2.60,7.56, 2.59,7.37, 2.60,7.35,
    2.45,7.25, 2.47,7.20, 2.47,7.23, 2.60,7.23, 2.63,7.23, 2.70,7.20, 2.73,7.24, 2.77,7.25, 2.56,7.05, 2.65,7.07, 2.64,6.95, 2.70,6.91, 2.76,6.88, 2.85,7.08, 2.87,7.09, 2.87,7.19, 2.88,6.94, 2.94,7.03, 3.04,7.09, 3.06,6.93, 3.29,6.88, 3.32,6.83, 3.35,6.85,
    2.39,8.06, 2.43,8.08, 2.44,8.00, 2.45,7.92, 2.51,7.98, 2.48,7.83, 2.51,7.83, 2.48,7.76, 2.53,7.79, 2.49,7.73, 2.54,7.75, 2.58,7.71, 2.59,7.71, 2.45,8.35, 2.47,8.41, 2.43,8.36, 2.58,8.52, 2.59,8.14,
    2.62,7.90, 2.64,7.98, 2.65,7.96, 2.69,7.88, 2.66,7.71, 2.69,7.76, 2.68,7.58, 2.73,7.52, 2.77,7.63, 2.68,8.16, 2.68,8.11, 2.73,8.23, 2.75,8.05, 2.75,7.85, 2.79,7.77, 2.80,7.93, 2.81,7.88, 2.82,8.06, 2.83,7.85, 2.84,8.00, 2.85,7.73, 2.89,7.72, 2.90,7.78, 2.86,7.55, 2.92,7.85,
    2.64,8.74, 2.73,8.74, 2.82,8.94, 2.89,8.83, 2.86,8.68, 2.97,8.69, 2.81,8.58, 2.92,8.56, 3.07,8.70, 3.12,8.58, 3.13,8.83, 3.23,8.86, 3.28,8.88, 3.33,8.76, 3.24,9.07, 3.26,9.08, 3.02,8.52, 2.98,8.40, 2.95,8.35, 2.90,8.28, 2.92,8.20, 2.86,8.19, 2.89,8.11, 2.90,8.08, 2.95,8.05, 2.98,8.13, 3.06,8.13,
    2.94,7.87, 2.98,7.88, 2.99,7.93, 3.01,7.98, 3.01,8.01, 2.89,7.75, 3.01,7.77, 3.03,7.73, 3.05,7.83, 3.09,7.93, 3.12,7.95, 3.13,7.83, 3.07,7.60, 3.12,7.54, 3.13,7.53, 3.18,7.47, 3.23,7.47, 2.97,7.58, 2.92,7.52, 2.97,7.50, 3.00,7.39, 2.95,7.33,
    3.07,8.26, 3.13,8.33, 3.13,8.30, 3.13,8.25, 3.10,8.15, 3.14,8.39, 3.18,8.43, 3.20,8.46, 3.21,8.42, 3.24,8.43, 3.30,8.42, 3.24,8.65, 3.25,8.62, 3.34,8.52, 3.22,8.33, 3.24,8.31, 3.26,8.23, 3.28,8.25, 3.31,8.23, 3.32,8.20, 3.24,8.15, 3.24,8.11, 3.13,8.06, 3.15,8.04, 3.14,8.01, 3.20,8.02, 3.22,7.96, 3.31,8.18, 3.31,8.16, 3.32,8.02,
    3.22,7.83, 3.22,7.78, 3.33,7.91, 3.36,7.88, 3.39,7.96, 3.43,7.98, 3.49,8.01, 3.38,7.88, 3.42,7.88, 3.24,7.67, 3.28,7.56, 3.38,7.62, 3.39,7.67, 3.42,7.65, 3.42,7.57, 3.42,7.47, 3.42,7.79, 3.47,7.77, 3.53,7.70, 3.62,7.66,
    3.23,7.22, 3.28,7.11, 3.39,7.08, 3.48,7.25, 3.54,7.39, 3.59,7.14, 3.65,7.22, 3.76,7.09, 3.36,8.31, 3.38,8.28, 3.40,8.34, 3.41,8.44, 3.38,8.25, 3.41,8.23, 3.42,8.14, 3.46,8.21, 3.48,8.42, 3.49,8.28, 3.50,8.25, 3.54,8.26, 3.54,8.15, 3.65,8.29, 3.63,8.24, 3.65,8.20, 3.65,8.11, 3.70,8.19, 3.70,8.05, 3.76,8.16, 3.79,8.05, 3.81,8.08, 3.82,8.02, 3.70,8.28, 3.62,7.96,
    3.58,7.90, 3.59,7.85, 3.66,7.88, 3.67,7.85, 3.75,7.80, 3.79,7.79, 3.79,7.73, 3.90,7.91, 3.98,7.91, 4.15,7.93, 3.35,8.65, 3.33,8.52, 3.40,8.65, 3.38,8.95, 3.42,8.93, 3.52,8.63, 3.56,8.64, 3.59,8.66, 3.49,8.56, 3.49,8.54, 3.54,8.52, 3.59,8.49, 3.63,8.51, 3.70,8.54, 3.63,8.39, 3.63,8.33, 3.75,8.46, 3.79,8.51, 3.82,8.49, 3.76,8.33, 3.82,8.39, 3.80,8.29, 3.87,8.28, 3.89,8.22, 3.90,8.18, 3.91,8.43, 3.93,8.51, 3.96,8.49, 3.99,8.43, 4.02,8.30, 4.03,8.51, 4.12,8.51, 4.12,8.32, 4.15,8.44, 4.17,8.39, 4.15,8.41, 4.26,8.44,
    3.82,8.71, 3.84,8.76, 3.86,8.77, 3.83,8.68, 3.91,8.64, 3.91,8.62, 3.89,8.79, 3.93,8.82, 3.99,8.79, 4.01,8.78, 4.10,8.82, 4.20,8.81, 4.17,8.66, 4.21,8.60, 4.29,8.75, 4.33,8.76, 4.39,9.02, 4.36,8.53, 4.40,8.57, 4.45,8.70, 4.56,8.69, 4.26,8.20, 4.43,8.13, 4.59,8.21, 4.62,7.95, 4.77,8.26,
    4.18,8.97, 4.56,8.94, 4.57,8.93, 4.19,9.17, 4.21,9.20, 4.32,9.24, 4.28,9.09, 3.94,9.19, 3.98,9.09, 4.07,9.12, 3.80,9.05, 3.72,9.03, 3.66,9.07, 3.63,9.08, 3.59,8.97, 3.61,8.83, 3.67,8.90, 3.72,8.83, 3.78,8.87, 3.78,8.84, 3.70,9.21, 3.57,9.31,
    4.23,9.55, 4.24,9.52, 4.28,9.48, 4.42,9.74, 4.52,9.48, 4.67,9.58, 4.67,9.50, 4.67,9.27, 4.69,9.16, 4.80,9.31, 5.10,9.74, 3.43,9.61, 3.63,9.64]

# panel F, flat month,survival pairs
lrpprc_low = [0,1, 2,.975, 3.4,.955, 5,.95, 8.4,.94, 10,.93, 11,.922, 13,.91, 14,.903, 16,.895, 17,.885, 19,.875, 20,.862, 21,.845, 21.7,.825, 23,.80, 24,.79, 26,.78, 27,.77, 29,.755, 33,.745, 37,.74, 40,.715, 41,.70, 42,.68, 44,.665, 50,.655, 52.5,.65, 54,.635, 56,.61, 58,.60, 60,.595, 62,.555, 72,.505, 83,.46, 83.5,.415, 85,.325, 105,.27, 109,.215, 124,.215]
lrpprc_high = [0,1, 2,.97, 3,.945, 4,.91, 5,.89, 6.5,.867, 9,.84, 11,.807, 12,.766, 13.5,.733, 15.4,.70, 19,.683, 22,.65, 25.5,.623, 26.7,.60, 28,.573, 33.6,.554, 37.4,.53, 38.7,.516, 45.6,.50, 46.8,.467, 50,.453, 55,.435, 57,.40, 93.5,.40]
rbm15b_low = [0,1, 2,.97, 3.7,.943, 7,.94, 9,.926, 12.3,.908, 14,.88, 16.4,.858, 18.7,.848, 19.8,.816, 22,.793, 25.6,.78, 27.3,.756, 29,.733, 32.5,.72, 40.5,.715, 42.9,.697, 46.4,.683, 48,.66, 53,.646, 55,.632, 55.2,.596, 57.8,.559, 59.8,.538, 72,.508, 72.2,.478, 83.5,.426, 85.5,.366, 105.2,.292, 109.4,.219, 124.6,.219]
rbm15b_high = [0,1, 2,.977, 4.3,.917, 5.4,.89, 7,.867, 9.4,.848, 10.6,.807, 12.3,.775, 14,.733, 18,.72, 19.8,.71, 22,.678, 24.4,.642, 26,.614, 28.5,.596, 29.6,.582, 37,.57, 38.8,.54, 39.4,.513, 42.9,.50, 46.3,.49, 48,.462, 49.8,.446, 62.4,.414, 82.2,.347, 85.2,.26, 116.6,.26]
hnrnpa2b1_low = [0,1, 2.9,.966, 4.6,.948, 9.8,.925, 12.1,.911, 15,.888, 18.4,.868, 19.6,.837, 21,.80, 23,.778, 26,.764, 27.7,.736, 30,.709, 32.3,.695, 39.2,.693, 41.5,.677, 45,.654, 47.3,.64, 49.6,.622, 53.6,.617, 55.3,.603, 55.4,.571, 57,.532, 60.5,.513, 72,.466, 83,.461, 84,.41, 85,.31, 105.5,.25, 109.5,.186, 117.6,.186]
hnrnpa2b1_high = [0,1, 1.7,.966, 3.5,.938, 4.4,.897, 6.3,.874, 9.2,.842, 10.4,.81, 11.5,.764, 13.8,.741, 14.4,.713, 17.3,.70, 21.9,.69, 24.2,.658, 26.5,.631, 28.2,.603, 34.6,.594, 37.5,.576, 39.2,.544, 41.5,.53, 46.1,.511, 47.8,.486, 50.1,.47, 62.2,.44, 82.2,.351, 124.5,.351]

lrpprc_low_up = [0,1, 7,.98, 10,.963, 17,.92, 21,.90, 26,.85, 31,.815, 39,.816, 41,.79, 43,.77, 47,.765, 53,.74, 56,.726, 64.6,.68, 69.3,.68, 71.7,.66, 74.2,.642, 78.7,.642, 81.8,.628, 82.9,.597, 84.9,.574, 85,.534, 104.3,.534, 105.9,.506, 108.8,.498, 108.9,.46, 123,.46]
lrpprc_low_dn = [0,1, 4,.963, 7,.917, 13,.871, 15,.847, 18,.835, 20,.812, 21,.784, 22.4,.754, 24.4,.732, 26.3,.708, 28.8,.688, 32,.674, 35,.665, 39,.654, 42,.598, 44.4,.58, 48,.571, 53.5,.539, 55.7,.518, 57.5,.495, 59.8,.475, 62,.451, 70.8,.449, 71.7,.417, 75,.403, 78,.394, 82,.385, 82,.347, 83,.312, 85,.29, 85,.208, 88,.196, 102,.196, 105,.182, 105.5,.145, 109,.136, 109.7,.101, 119,.101]
lrpprc_high_up = [0,1, 3,.96, 7.8,.91, 11,.853, 13.8,.80, 16,.775, 18.5,.76, 20.8,.74, 23.5,.722, 26,.70, 30,.68, 33.6,.66, 37.4,.635, 39.5,.616, 46.8,.603, 48.4,.575, 51.9,.559, 55,.552, 57,.53, 61,.527, 89,.527]
lrpprc_high_dn = [0,1, 2,.9375, 4,.873, 7,.818, 8.4,.79, 11,.733, 12,.70, 13.8,.676, 15,.646, 17,.623, 18.8,.60, 22,.585, 25.8,.539, 28,.516, 29.5,.488, 32.8,.476, 35.8,.462, 38,.442, 41.4,.43, 45.9,.43, 46.8,.40, 49,.375, 51.5,.357, 55,.348, 57,.325, 59.5,.306, 91.6,.306]
rbm15b_low_up = [0,1, 6.8,.977, 9.9,.965, 12.9,.952, 14.9,.926, 17.5,.911, 19.4,.887, 21.8,.865, 24.8,.852, 27,.833, 29,.81, 32.6,.80, 37,.80, 41,.794, 43.8,.778, 47,.766, 50.3,.754, 53,.74, 55,.715, 57,.692, 60,.678, 63,.665, 67.6,.665, 71,.654, 72.5,.625, 81.6,.625, 84,.605, 85.7,.58, 104,.58, 105.6,.552, 109,.543, 110.5,.514, 119.6,.514]
rbm15b_low_dn = [0,1, 3,.94, 7.7,.908, 12.3,.864, 14,.84, 15.4,.81, 17.5,.787, 19.8,.767, 21,.738, 23.3,.718, 25,.692, 28,.678, 30,.653, 33,.64, 37.7,.64, 41,.632, 43,.607, 47,.603, 48.3,.571, 51.8,.565, 54.3,.544, 55,.51, 57,.488, 60,.435, 69.4,.435, 71.3,.407, 72.2,.377, 80.3,.368, 83.2,.312, 85,.248, 87.6,.23, 105,.223, 105.2,.182, 106.8,.154, 109,.136, 109.2,.095, 122.7,.093]
rbm15b_high_up = [0,1, 2.5,.963, 6.2,.93, 10,.887, 11.2,.867, 13,.83, 15,.807, 17.5,.79, 19.8,.763, 22.5,.752, 26,.70, 28.5,.68, 32,.674, 35.4,.662, 38,.646, 39.4,.616, 42.6,.605, 46,.597, 48.6,.574, 51.5,.56, 60.7,.56, 63,.542, 81.6,.542, 85,.533, 112.6,.533]
rbm15b_high_dn = [0,1, 2.2,.9375, 4,.873, 7,.818, 9,.796, 10.2,.763, 11.2,.732, 12.3,.70, 14,.676, 16.4,.655, 19.8,.648, 22,.626, 23.3,.593, 25,.57, 26,.539, 28,.516, 31,.50, 34,.488, 37,.474, 39.2,.451, 41,.427, 44,.412, 46.3,.393, 48.7,.373, 51,.352, 60,.352, 62,.33, 65.3,.317, 79,.317, 82,.303, 82.2,.263, 82.3,.22, 85,.207, 85.2,.127, 112.6,.127]
hnrnpa2b1_low_up = [0,1, 3.7,.992, 6.9,.98, 10,.966, 13,.95, 15.2,.931, 18.4,.92, 20,.893, 21.9,.87, 23.9,.845, 26.2,.826, 28.8,.808, 31.5,.79, 34.9,.78, 38.8,.776, 41.7,.759, 45,.747, 48,.735, 51.4,.724, 54.5,.712, 56,.683, 57.3,.652, 60,.637, 68.6,.637, 71.7,.62, 74,.60, 83,.596, 85,.574, 85,.533, 102,.522, 104.9,.507, 107.8,.491, 109,.461, 112.6,.452]
hnrnpa2b1_low_dn = [0,1, 3.8,.938, 6.9,.905, 9.8,.888, 13,.87, 14.6,.848, 17,.826, 18.4,.796, 20,.767, 21,.741, 23,.715, 26,.70, 26.9,.67, 28.8,.647, 31.5,.629, 34.6,.615, 39,.612, 41,.59, 42.9,.569, 46.7,.562, 48.2,.533, 52.8,.534, 55,.511, 57,.447, 60,.433, 62.2,.412, 66.9,.412, 70.9,.409, 72,.376, 73.8,.354, 78.4,.354, 83,.311, 85,.288, 85.1,.208, 87,.184, 104.9,.181, 105,.141, 107.8,.126, 109,.095, 111.6,.077]
hnrnpa2b1_high_up = [0,1, 2.3,.957, 5.8,.929, 7.8,.908, 10,.885, 11,.851, 12.3,.824, 13.8,.798, 15.9,.776, 20,.769, 22.7,.753, 26.9,.712, 29.6,.693, 34,.691, 39,.654, 42,.64, 45.8,.634, 49.9,.588, 59,.588, 62,.573, 66.3,.568, 80,.568, 83,.585, 119.7,.585]
hnrnpa2b1_high_dn = [0,1, 1.7,.938, 3.1,.905, 4,.871, 5.8,.851, 6.9,.817, 8.9,.794, 9.8,.769, 11,.73, 11.9,.698, 13.8,.677, 15,.643, 18.4,.634, 21.9,.624, 23,.594, 27,.548, 28.9,.523, 33.4,.523, 36.3,.507, 38,.482, 40,.458, 42.7,.44, 45.9,.431, 47,.40, 49.9,.385, 53.4,.376, 58,.376, 62,.369, 62.8,.337, 76.7,.337, 81.8,.302, 82,.262, 82.1,.221, 85.3,.21, 122.2,.21]

lrpprc_low_cens = [5, 6, 7, 9, 11, 12, 14, 16, 17, 18, 19, 24, 25, 26, 27, 30, 31, 33, 35, 36, 37, 38, 39, 45, 46, 47, 49, 50, 52, 54, 56, 57, 59, 63, 65, 67, 68, 73, 75, 77, 78, 80, 81, 92, 110, 115, 116, 123]
lrpprc_high_cens = [2, 3, 5, 8, 18, 19, 20, 21, 31, 32, 35, 36, 40, 41, 42, 43, 44, 45, 48, 49, 51, 52, 53, 54, 55, 58, 59, 60, 61, 62, 65, 67, 68, 70, 73, 75, 77, 78, 81, 82, 85, 87, 91, 92]
rbm15b_low_cens = [5, 6, 7, 9, 11, 13, 16, 17, 18, 24, 25, 26, 30, 31, 33, 35, 36, 37, 38, 44, 45, 46, 48, 49, 51, 52, 65, 67, 68, 73, 75, 77, 78, 80, 81, 84, 92, 111, 116, 123]
rbm15b_high_cens = [2, 3, 5, 8, 15, 16, 17, 18, 31, 32, 35, 41, 43, 45, 46, 50, 52, 54, 56, 57, 64, 65, 70, 73, 77, 78, 79, 81, 91, 92, 115, 116]
hnrnpa2b1_low_cens = [4, 6, 7, 8, 11, 13, 16, 17, 18, 24, 25, 26, 32, 33, 35, 36, 37, 38, 43, 45, 46, 51, 52, 53, 61, 62, 67, 68, 74, 75, 77, 78, 91, 111, 115, 116]
hnrnpa2b1_high_cens = [2, 3, 6, 8, 16, 17, 20, 21, 29, 30, 31, 32, 33, 41, 42, 44, 45, 51, 52, 55, 58, 61, 64, 65, 66, 68, 74, 79, 80, 92, 123]


def px_axes(fig, x0, y0, x1, y1):
    return fig.add_axes([x0 / W, 1 - y1 / H, (x1 - x0) / W, (y1 - y0) / H])


def px_text(fig, x, y, s, **kw):
    fig.text(x / W, 1 - y / H, s, **kw)


def serif_ticks(ax):
    for lab in ax.get_xticklabels() + ax.get_yticklabels():
        lab.set_fontfamily('Liberation Serif')


def draw_heat(fig, box, corr, stars, top_labels, left_labels, cmap):
    ax = px_axes(fig, *box)
    ax.imshow(np.array(corr, dtype=float), cmap=cmap, vmin=-1, vmax=1, aspect='auto', interpolation='nearest')
    for s in ax.spines.values():
        s.set_visible(False)
    ax.set_xticks([])
    ax.set_yticks(range(len(left_labels)))
    ax.set_yticklabels(left_labels, fontsize=18)
    ax.tick_params(axis='y', length=0, pad=6)
    for i, lab in enumerate(top_labels):
        ax.text(i + 0.12, -0.98, lab, rotation=45, rotation_mode='anchor', ha='left', va='baseline', fontsize=19)
    for r, row in enumerate(stars):
        for c, n in enumerate(row):
            if n != '0':
                ax.text(c, r + 0.55, '*' * int(n), ha='center', va='baseline', fontsize=19, color='#1c1c1c')


def draw_cbar(fig, box, tick_hi, tick_lo, cmap):
    x0, y0, x1, y1 = box
    ax = px_axes(fig, x0, y0, x1, y1)
    per = (tick_lo - tick_hi) / 2
    top = 1 + (tick_hi - y0) / per
    bot = -1 - (y1 - tick_lo) / per
    grad = np.linspace(top, bot, 300)[:, None]
    ax.imshow(grad, cmap=cmap, vmin=-1, vmax=1, aspect='auto', extent=[0, 1, bot, top])
    ax.set_xticks([])
    ax.set_yticks([])
    for s in ax.spines.values():
        s.set_visible(False)
    for v, lab in zip([1, .5, 0, -.5, -1], ['1.0', '0.5', '0.0', '\u22120.5', '\u22121.0']):
        ax.plot([0, .2], [v, v], color='white', lw=1)
        ax.plot([.8, 1], [v, v], color='white', lw=1)
        ax.text(1.28, v, lab, fontsize=18, ha='left', va='center', clip_on=False)
    ax.set_xlim(0, 1)
    ax.set_ylim(bot, top)


def swarm(vals, dy=0.022, dx=0.05):
    placed = []
    out = []
    for v in vals:
        for k in [0, 1, -1, 2, -2, 3, -3]:
            if all(abs(v - pv) > dy or k != pk for pv, pk in placed):
                placed.append((v, k))
                out.append(k * dx)
                break
        else:
            out.append(0)
    return np.array(out)


def draw_c(fig):
    ax = px_axes(fig, 134.5, 794, 1052.5, 1231.5)
    xs = np.arange(len(c_genes))
    ax.set_xlim(-0.423, 19.51)
    ax.set_ylim(1, 4 + 6.5 / 143.5)
    off = 0.19
    for i in xs:
        for vals, med, err, col, sgn in [(c_high[i], c_med_high[i], c_err_high[i], '#e8262a', -1),
                                          (c_low[i], c_med_low[i], c_err_low[i], '#2a4fa0', 1)]:
            v = np.array(vals)
            ax.scatter(i + sgn * off + swarm(v), v, s=12, color=col, lw=0, zorder=2)
            cx = i + sgn * off
            lo, hi = med - err, med + err
            ax.plot([cx, cx], [lo, hi], color='k', lw=2, zorder=3)
            ax.plot([cx - .05, cx + .05], [hi, hi], color='k', lw=1.5, zorder=3)
            ax.plot([cx - .05, cx + .05], [lo, lo], color='k', lw=1.5, zorder=3)
            ax.plot([cx - .15, cx + .15], [med, med], color='k', lw=5, solid_capstyle='butt', zorder=4)
        ax.plot([i - .335, i + .335], [c_sig_y[i], c_sig_y[i]], color='#333333', lw=1.2)
        if c_sig[i]:
            ax.text(i, c_sig_y[i] - .02, c_sig[i], ha='center', va='baseline', fontsize=15, color='#333333')
    for s in ['top', 'right']:
        ax.spines[s].set_visible(False)
    ax.spines['left'].set_linewidth(5.8)
    ax.spines['bottom'].set_linewidth(6.5)
    ax.set_yticks([1, 2, 3, 4])
    ax.set_xticks(xs)
    ax.set_xticklabels(c_genes, rotation=45, rotation_mode='anchor', ha='right', va='top', fontsize=24)
    ax.tick_params(axis='y', length=16, width=6.5, labelsize=24, pad=3)
    ax.tick_params(axis='x', length=14, width=6, pad=16)
    serif_ticks(ax)
    shift = ScaledTranslation(-5 / 100, 0, fig.dpi_scale_trans)
    for lab in ax.get_xticklabels():
        lab.set_transform(lab.get_transform() + shift)
    px_text(fig, 173, 1172, '\u2022', color='#e8262a', fontsize=14, ha='center', va='center')
    px_text(fig, 173, 1202, '\u2022', color='#2a4fa0', fontsize=14, ha='center', va='center')
    px_text(fig, 194, 1172, 'FARSB m6A high expression', fontsize=14.8, ha='left', va='center')
    px_text(fig, 194, 1202, 'FARSB m6A low expression', fontsize=14.8, ha='left', va='center')
    px_text(fig, 577, 770, 'FARSB', fontsize=24, ha='center', va='center')
    px_text(fig, 52.5, 1021, 'Log2 (Expression levels)', fontsize=24, rotation=90, ha='center', va='center')


def draw_venn(fig):
    ax = px_axes(fig, 1340, 790, 1870, 1300)
    ax.set_xlim(1340, 1870)
    ax.set_ylim(1300, 790)
    ax.axis('off')
    r = 164
    circles = [((1605.7, 965.6), (184 / 255, 216 / 255, 227 / 255), 1.0),
               ((1524, 1128.8), (223 / 255, 101 / 255, 65 / 255), .5),
               ((1688, 1128.8), (97 / 255, 157 / 255, 141 / 255), .5)]
    for center, col, a in circles:
        ax.add_patch(Circle(center, r, facecolor='none', edgecolor='k', lw=2.6))
        ax.add_patch(Circle(center, r, facecolor=col, edgecolor='none', alpha=a))
    for center, col, a in circles[1:]:
        ax.add_patch(Circle(center, r, facecolor='none', edgecolor='k', lw=2.6, alpha=.8))
    pos = [(1607, 897), (1515, 1017), (1699.5, 1017), (1607, 1069), (1459, 1162), (1607, 1179), (1754, 1162)]
    for (x, y), s in zip(pos, venn_counts):
        ax.text(x, y, s, fontsize=24, ha='center', va='center')
    px_text(fig, 1617.5, 770.5, 'Positive correlation TCGA', fontsize=24, ha='center', va='center')
    px_text(fig, 1399.5, 1313, 'Positive correlation ICGC', fontsize=24, ha='center', va='center')
    px_text(fig, 1830, 1313, 'Differentially expressed', fontsize=24, ha='center', va='center')


def draw_scatter(fig, box, flat, xlim, ylim, yticks, ylabels, p_text, r_text, ylab, ylab_pos, xlab_x, ann_x):
    pts = np.array(flat).reshape(-1, 2)
    ax = px_axes(fig, *box)
    ax.scatter(pts[:, 0], pts[:, 1], s=15, color='k', lw=0, zorder=3)
    ax.set_xlim(*xlim)
    ax.set_ylim(*ylim)
    ax.set_xticks(np.arange(1.5, 5.01, .5))
    ax.set_xticklabels(['%.1f' % v for v in np.arange(1.5, 5.01, .5)], fontsize=22)
    ax.set_yticks(yticks)
    ax.set_yticklabels(ylabels, fontsize=22, rotation=90, va='center')
    ax.tick_params(length=7, width=1.8)
    ax.tick_params(axis='x', pad=5)
    ax.tick_params(axis='y', pad=9)
    serif_ticks(ax)
    for s in ax.spines.values():
        s.set_linewidth(2.4)
    px_text(fig, ann_x, 1501, p_text, fontsize=24, ha='left', va='center')
    px_text(fig, ann_x, 1535, r_text, fontsize=24, ha='left', va='center')
    px_text(fig, xlab_x, 1975, 'log2(FARSB TPM)', fontsize=24, ha='center', va='center')
    px_text(fig, ylab_pos[0], ylab_pos[1], ylab, fontsize=24, rotation=90, ha='center', va='center')


def draw_surv(fig, box, low, high, low_up, low_dn, high_up, high_dn, low_cens, high_cens, gene, stats,
              title_x, ylab_x, text_right, leg_x, dy):
    ax = px_axes(fig, *box)
    ax.set_xlim(0, 128.2)
    ax.set_ylim(-.04, 1.04)
    for flat, col in [(low_up, BLUE), (low_dn, BLUE), (high_up, RED), (high_dn, RED)]:
        p = np.array(flat).reshape(-1, 2)
        ax.plot(p[:, 0], p[:, 1], color=col, lw=3, ls=(0, (0.01, 3.8)), dash_capstyle='round')
    for flat, cens, col in [(low, low_cens, BLUE), (high, high_cens, RED)]:
        p = np.array(flat).reshape(-1, 2)
        ax.step(p[:, 0], p[:, 1], where='post', color=col, lw=5, solid_joinstyle='miter')
        idx = np.searchsorted(p[:, 0], cens, side='right') - 1
        ax.plot(cens, p[idx, 1], ls='none', marker='|', ms=11, mew=2.6, color=col)
    ax.set_xticks(range(0, 121, 20))
    ax.set_xticklabels([str(v) for v in range(0, 121, 20)], fontsize=22)
    ax.set_yticks(np.arange(0, 1.01, .2))
    ax.set_yticklabels(['%.1f' % v for v in np.arange(0, 1.01, .2)], fontsize=22, rotation=90, va='center')
    ax.tick_params(length=9, width=1.8)
    ax.tick_params(axis='x', pad=6)
    ax.tick_params(axis='y', pad=11)
    serif_ticks(ax)
    for s in ax.spines.values():
        s.set_linewidth(2.4)
    px_text(fig, title_x - 1, 2060 + dy * .3, 'Overall Survival', fontsize=24, ha='center', va='center')
    px_text(fig, title_x - 1, 2576 + dy, 'Months', fontsize=24, ha='center', va='center')
    px_text(fig, ylab_x + 2, 2286 + dy, 'Percent survival', fontsize=24, rotation=90, ha='center', va='center')
    rows = [2098.3, 2116.8, 2140, 2163, 2185.6, 2208.5, 2231.4]
    lines = ['Low %s TPM' % gene, 'High %s TPM' % gene] + stats
    for y, s in zip(rows, lines):
        px_text(fig, text_right - 3, y + dy, s, fontsize=15.5, ha='right', va='center')
    for y, col in [(rows[0] + dy, BLUE), (rows[1] + dy, RED)]:
        fig.add_artist(Line2D([(leg_x[0] - 3) / W, (leg_x[1] - 3) / W], [1 - y / H, 1 - y / H], color=col, lw=4.5, solid_capstyle='round'))


def main():
    fig = plt.figure(figsize=(W / 100, H / 100), dpi=100)
    cmap = LinearSegmentedColormap.from_list('corr', ['#2e62ae', '#ffffff', '#ee2c24'])

    draw_heat(fig, (226, 128.5, 850, 684), corr_a, stars_a, genes_a, genes_a, cmap)
    draw_cbar(fig, (865.5, 349, 894, 586), 359, 575, cmap)
    px_text(fig, 872, 225, '* $\\mathit{p}$ < 0.05', fontsize=18, ha='left', va='center')
    px_text(fig, 867, 280, '** $\\mathit{p}$ < 0.01', fontsize=18, ha='left', va='center')
    px_text(fig, 865, 332, 'Correlation', fontsize=18, ha='left', va='center')

    draw_heat(fig, (1238, 125.5, 1862, 681), corr_b, stars_b, top_labels_b, genes_b, cmap)
    draw_cbar(fig, (1875, 345, 1904, 583), 356, 571, cmap)
    px_text(fig, 1883, 221, '* $\\mathit{p}$ < 0.05', fontsize=18, ha='left', va='center')
    px_text(fig, 1878, 276, '** $\\mathit{p}$ < 0.01', fontsize=18, ha='left', va='center')
    px_text(fig, 1875, 329, 'Correlation', fontsize=18, ha='left', va='center')

    draw_c(fig)
    draw_venn(fig)

    draw_scatter(fig, (157, 1474.7, 611.5, 1909.5), lrpprc_flat, (1.377, 5.27), (3.392, 6.71),
                 np.arange(3.5, 6.51, .5), ['3.5', '4.0', '4.5', '5.0', '5.5', '6.0', '6.5'],
                 '$\\mathit{p}$\u2013value = 3.7e\u201375', 'r = 0.74', 'log2(LRPPRC TPM)', (85.5, 1669), 407, 171)
    draw_scatter(fig, (832.5, 1474.7, 1285, 1909.5), rbm15b_flat, (1.383, 5.269), (1.421, 4.564),
                 np.arange(1.5, 4.51, .5), ['1.5', '2.0', '2.5', '3.0', '3.5', '4.0', '4.5'],
                 '$\\mathit{p}$\u2013value = 8e\u201360', 'r = 0.69', 'log2(RBM15B TPM)', (757.6, 1665.6), 1079, 855)
    draw_scatter(fig, (1503.9, 1474.7, 1956.8, 1909.5), hnrnpa2b1_flat, (1.38, 5.27), (5.831, 9.9),
                 [6, 7, 8, 9], ['6', '7', '8', '9'],
                 '$\\mathit{p}$\u2013value = 5.3e\u201357', 'r = 0.67', 'log2(HNRNPA2B1 TPM)', (1431, 1651.5), 1752, 1530)

    draw_surv(fig, (153, 2078, 611, 2512.2), lrpprc_low, lrpprc_high, lrpprc_low_up, lrpprc_low_dn, lrpprc_high_up, lrpprc_high_dn,
              lrpprc_low_cens, lrpprc_high_cens, 'LRPPRC',
              ['Logrank $\\mathit{p}$=0.00076', 'HR(high)=1.8', '$\\mathit{p}$(HR)=0.00091', 'n(high)=182', 'n(low)=182'],
              389, 81, 605, (391, 430), 0)
    draw_surv(fig, (830, 2078, 1288, 2512.2), rbm15b_low, rbm15b_high, rbm15b_low_up, rbm15b_low_dn, rbm15b_high_up, rbm15b_high_dn,
              rbm15b_low_cens, rbm15b_high_cens, 'RBM15B',
              ['Logrank $\\mathit{p}$=0.0064', 'HR(high)=1.6', '$\\mathit{p}$(HR)=0.0069', 'n(high)=182', 'n(low)=182'],
              1066, 757.6, 1282, (1064, 1103), 0)
    draw_surv(fig, (1508, 2081, 1965, 2515.2), hnrnpa2b1_low, hnrnpa2b1_high, hnrnpa2b1_low_up, hnrnpa2b1_low_dn, hnrnpa2b1_high_up, hnrnpa2b1_high_dn,
              hnrnpa2b1_low_cens, hnrnpa2b1_high_cens, 'HNRNPA2B1',
              ['Logrank $\\mathit{p}$=0.022', 'HR(high)=1.5', '$\\mathit{p}$(HR)=0.023', 'n(high)=182', 'n(low)=182'],
              1743.7, 1436, 1957, (1702.5, 1741), 3)

    for x, y, s in [(66, 53, 'A'), (1074, 49.5, 'B'), (8, 805, 'C'), (1233, 792, 'D'), (7, 1511, 'E'), (6, 2087, 'F')]:
        px_text(fig, x, y, s, fontsize=44, fontweight='bold', family='Liberation Sans', ha='left', va='baseline')

    fig.savefig('out.png', dpi=100, facecolor='white')


if __name__ == '__main__':
    main()
